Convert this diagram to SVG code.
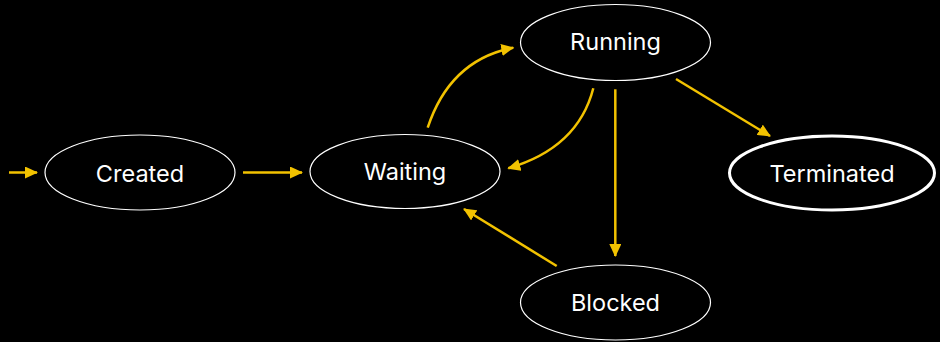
<svg xmlns="http://www.w3.org/2000/svg" width="940" height="342" viewBox="0 0 940 342">
  <defs>
    <marker id="arrow" markerUnits="userSpaceOnUse" markerWidth="14" markerHeight="12" refX="12" refY="6" orient="auto">
      <path d="M0,0 L13,6 L0,12 z" fill="#f2c200"/>
    </marker>
    <style>
      .state ellipse { fill: #000; stroke: #fff; stroke-width: 1.2; }
      .state.final ellipse { stroke-width: 3; }
      .state text { fill: #fff; font-family: Inter, "Noto Sans", "Liberation Sans", sans-serif; font-size: 23.5px; text-anchor: middle; }
      .edges path { fill: none; stroke: #f2c200; stroke-width: 2.5; marker-end: url(#arrow); }
    </style>
  </defs>
  <rect width="940" height="342" fill="#000"/>

  <g class="edges" id="transitions">
    <path d="M9,172.5 L37,172.5"/>
    <path d="M243,172.5 L302,172.5"/>
    <path d="M427.7,127.7 Q450,60 513.3,47.7"/>
    <path d="M593.3,88.3 Q578,148 508.3,168.3"/>
    <path d="M615.3,89.3 L615.3,256"/>
    <path d="M676,79 L770,136"/>
    <path d="M556.7,266 L464,209"/>
  </g>

  <g class="state" id="created">
    <ellipse cx="140" cy="172.5" rx="95" ry="37.5"/>
    <text x="140" y="182">Created</text>
  </g>
  <g class="state" id="waiting">
    <ellipse cx="405" cy="171.5" rx="95" ry="37"/>
    <text x="405" y="179.5">Waiting</text>
  </g>
  <g class="state" id="running">
    <ellipse cx="615.5" cy="42.5" rx="95" ry="38"/>
    <text x="615.5" y="50">Running</text>
  </g>
  <g class="state" id="blocked">
    <ellipse cx="615.5" cy="302.5" rx="95" ry="37.5"/>
    <text x="615.5" y="311">Blocked</text>
  </g>
  <g class="state final" id="terminated">
    <ellipse cx="832" cy="173" rx="102.5" ry="37"/>
    <text x="832" y="181.5">Terminated</text>
  </g>
</svg>
